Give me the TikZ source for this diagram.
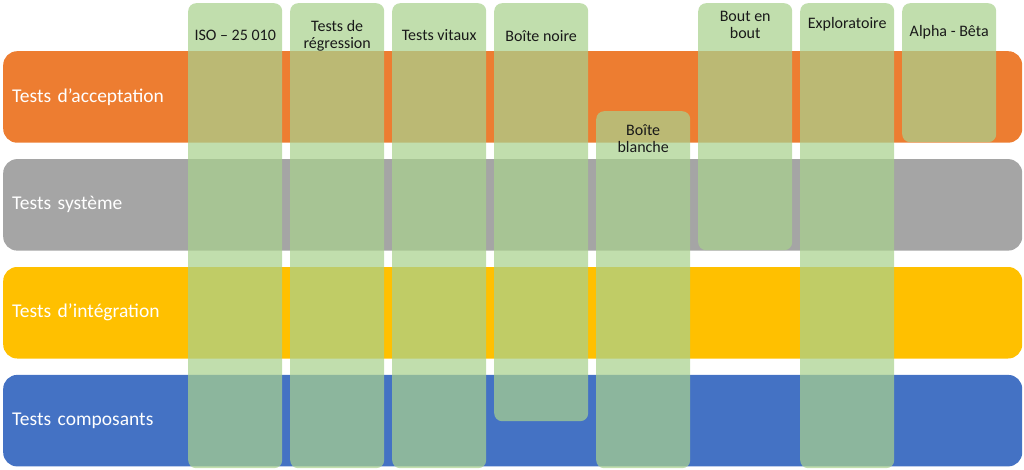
\documentclass[tikz,border=0pt]{standalone}
\usepackage{fontspec}
\setmainfont{Carlito}
\usetikzlibrary{positioning,calc}

\definecolor{accorange}{HTML}{ED7D31}
\definecolor{accgrey}{HTML}{A5A5A5}
\definecolor{accyellow}{HTML}{FFC000}
\definecolor{accblue}{HTML}{4472C4}
\definecolor{colgreen}{HTML}{A9D18E}

\begin{document}
\begin{tikzpicture}[
  x=1pt, y=-1pt,
  band/.style={rounded corners=14pt, minimum height=91.5pt, text width=1001pt, inner xsep=9pt, inner ysep=0pt, align=left, text=white, font=\fontsize{19.5}{22}\selectfont, anchor=north west},
  col/.style={fill=colgreen, fill opacity=0.72, rounded corners=8pt, minimum width=94pt, inner sep=0pt, anchor=north west},
  collabel/.style={align=center, font=\fontsize{16}{17}\selectfont, text=black!90, inner sep=0pt}
]
\useasboundingbox (0,0) rectangle (1024,470);
% levels
\node[band, fill=accorange] (acceptation) at (3,51) {Tests d’acceptation};
\node[band, fill=accgrey, below=16pt of acceptation.south west, anchor=north west] (systeme) {Tests système};
\node[band, fill=accyellow, below=16pt of systeme.south west, anchor=north west] (integration) {Tests d’intégration};
\node[band, fill=accblue, below=16pt of integration.south west, anchor=north west] (composants) {Tests composants};
% test types
\node[col, minimum height=465pt] (iso) at (188,3) {};
\node[col, minimum height=465pt] (regression) at ([xshift=7.6pt]iso.north east) {};
\node[col, minimum height=465pt] (vitaux) at ([xshift=7.6pt]regression.north east) {};
\node[col, minimum height=418pt] (noire) at ([xshift=7.6pt]vitaux.north east) {};
\node[col, minimum height=357pt] (blanche) at ([xshift=7.6pt,yshift=-108pt]noire.north east) {};
\node[col, minimum height=247pt] (bout) at ([xshift=7.6pt]blanche.east |- noire.north) {};
\node[col, minimum height=465pt] (exploratoire) at ([xshift=7.6pt]bout.north east) {};
\node[col, minimum height=139pt] (alphabeta) at ([xshift=7.6pt]exploratoire.north east) {};
\node[collabel] (iso-txt) at ([yshift=-32pt]iso.north) {ISO – 25 010};
\node[collabel] (regression-txt) at ([yshift=-32.5pt]regression.north) {Tests de\\régression};
\node[collabel] (vitaux-txt) at ([yshift=-32pt]vitaux.north) {Tests vitaux};
\node[collabel] (noire-txt) at ([yshift=-33pt]noire.north) {Boîte noire};
\node[collabel] (blanche-txt) at ([yshift=-27.5pt]blanche.north) {Boîte\\blanche};
\node[collabel] (bout-txt) at ([yshift=-21.5pt]bout.north) {Bout en\\bout};
\node[collabel] (exploratoire-txt) at ([yshift=-21pt]exploratoire.north) {Exploratoire};
\node[collabel] (alphabeta-txt) at ([yshift=-29pt]alphabeta.north) {Alpha - Bêta};
\end{tikzpicture}
\end{document}
